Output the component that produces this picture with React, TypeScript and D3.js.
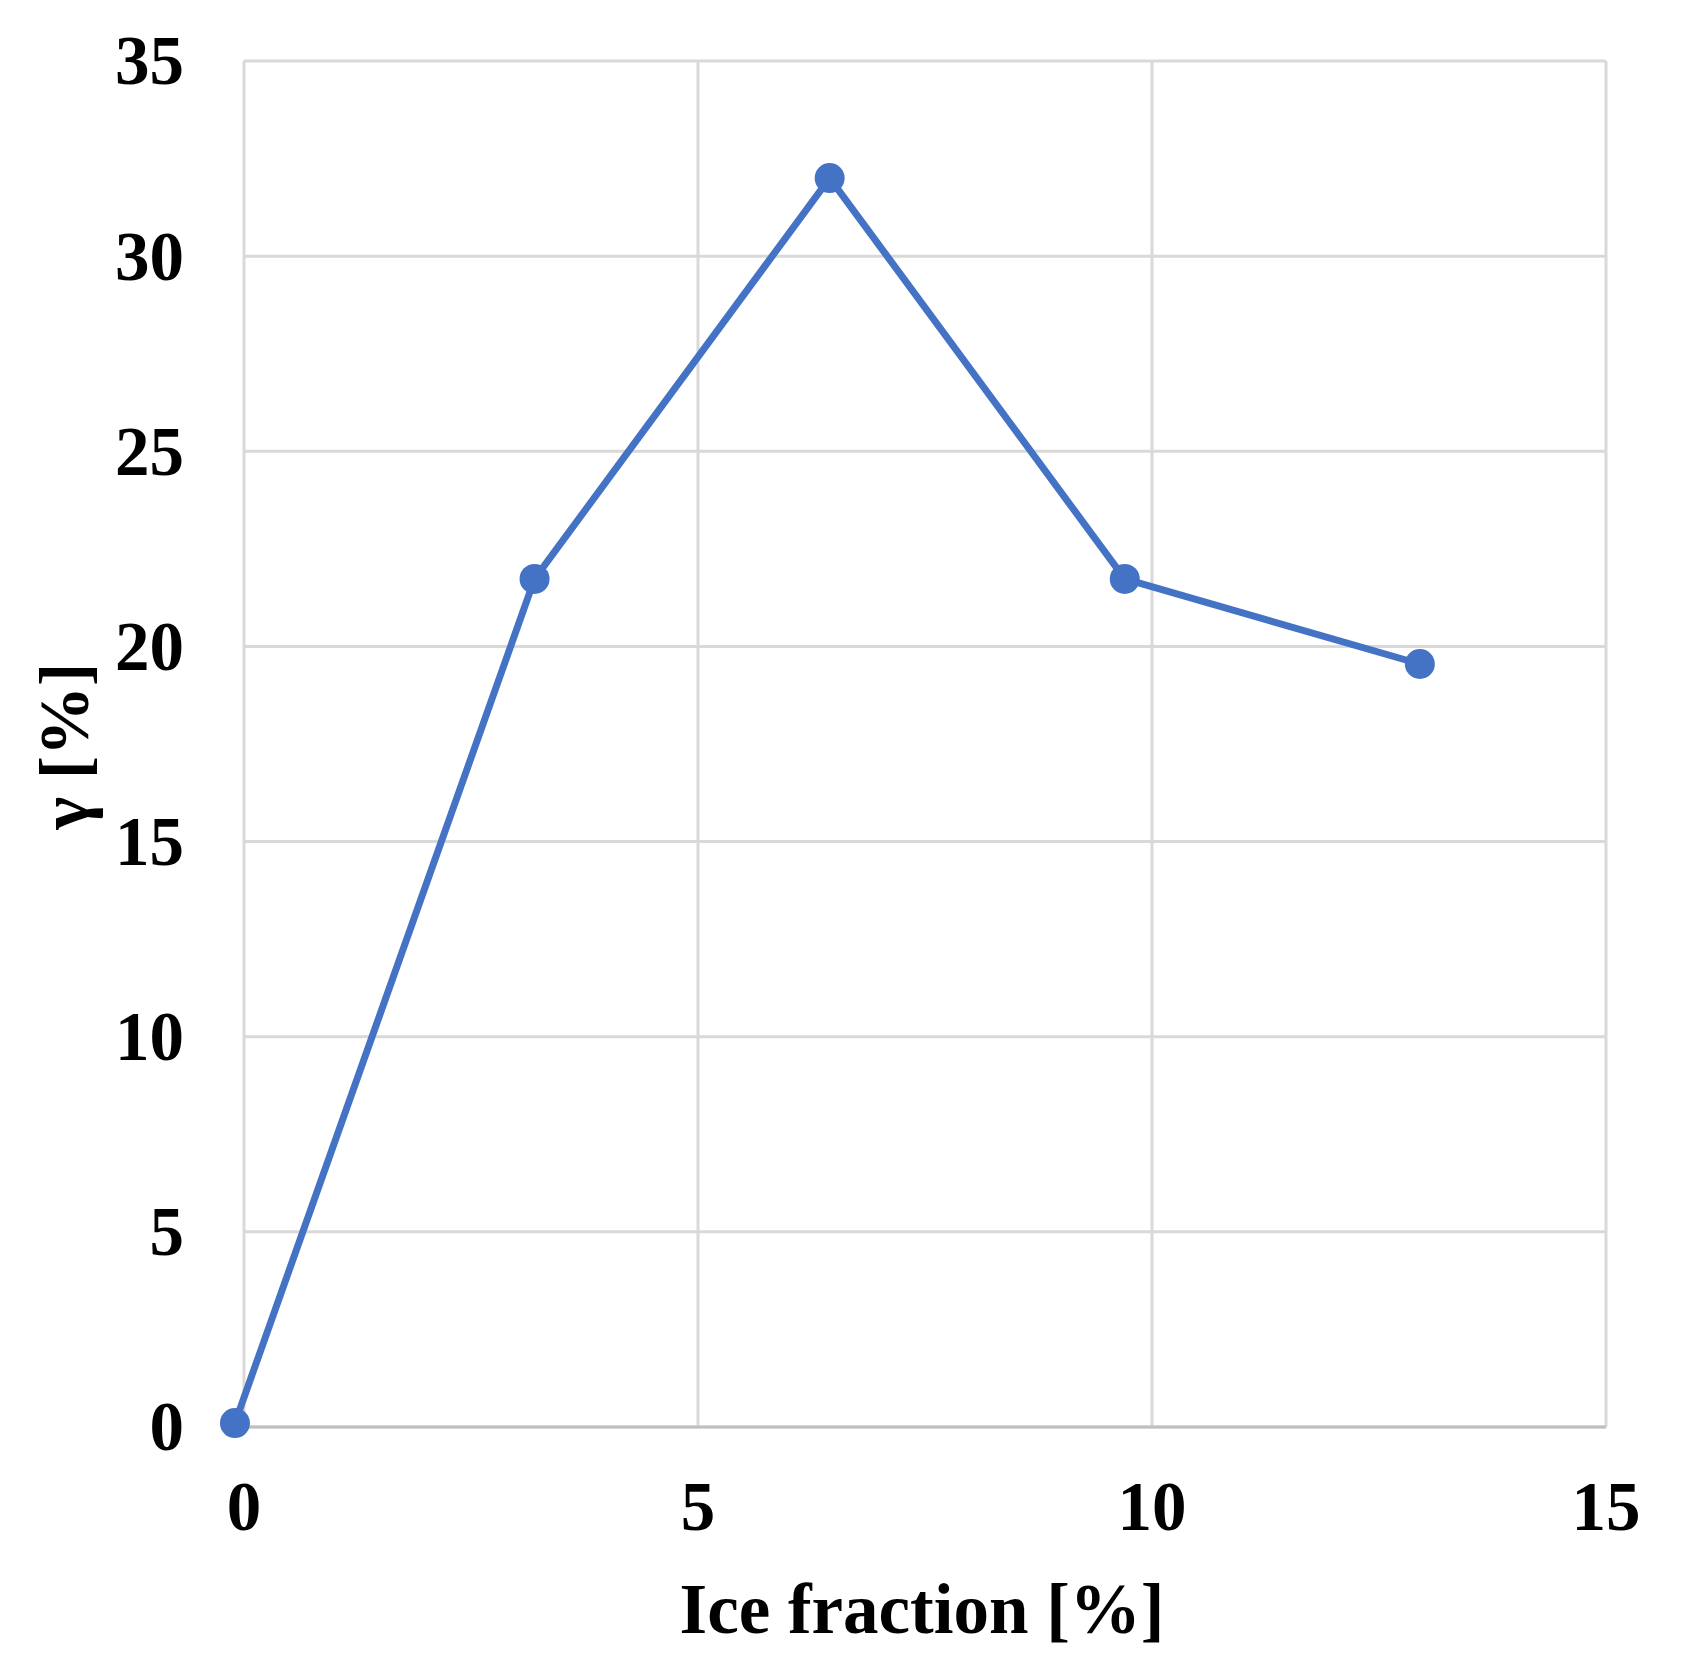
import React from "react";
import * as d3 from "d3";

const iceFraction = [-0.1, 3.2, 6.45, 9.7, 12.95];
const gammaValues = [0.1, 21.73, 32.0, 21.73, 19.55];
const xTicks = [0, 5, 10, 15];
const yTicks = [0, 5, 10, 15, 20, 25, 30, 35];
const xLabel = "Ice fraction [%]";
const yLabel = "γ [%]";

const W = 1681;
const H = 1672;
const M = { left: 244, right: 1606, top: 61, bottom: 1427 };
const FONT = "'Liberation Serif', 'Times New Roman', serif";
const BLUE = "#4472C4";

export default function App() {
  const x = d3.scaleLinear().domain([0, 15]).range([M.left, M.right]);
  const y = d3.scaleLinear().domain([0, 35]).range([M.bottom, M.top]);
  const pts = iceFraction.map((v, i) => [x(v), y(gammaValues[i])] as [number, number]);
  const line = d3.line()(pts) || "";

  return (
    <svg
      width={W}
      height={H}
      style={{ position: "absolute", left: 0, top: 0, background: "#fff" }}
    >
      <rect x={0} y={0} width={W} height={H} fill="#fff" />
      {yTicks.map((t) => (
        <line key={"gy" + t} x1={M.left} x2={M.right} y1={y(t)} y2={y(t)} stroke="#d9d9d9" strokeWidth={3} />
      ))}
      {xTicks.map((t) => (
        <line key={"gx" + t} x1={x(t)} x2={x(t)} y1={M.top} y2={M.bottom} stroke="#d9d9d9" strokeWidth={3} />
      ))}
      <line x1={M.left} x2={M.right} y1={y(0)} y2={y(0)} stroke="#bfbfbf" strokeWidth={3} />
      <path d={line} fill="none" stroke={BLUE} strokeWidth={7} strokeLinejoin="round" />
      {pts.map((p, i) => (
        <circle key={"m" + i} cx={p[0]} cy={p[1]} r={15} fill={BLUE} />
      ))}
      {yTicks.map((t) => (
        <text key={"ty" + t} x={184} y={y(t)} dy="0.34em" textAnchor="end" fontFamily={FONT} fontWeight="bold" fontSize={69} fill="#000">
          {t}
        </text>
      ))}
      {xTicks.map((t) => (
        <text key={"tx" + t} x={x(t)} y={1530} textAnchor="middle" fontFamily={FONT} fontWeight="bold" fontSize={69} fill="#000">
          {t}
        </text>
      ))}
      <text x={922} y={1633} textAnchor="middle" fontFamily={FONT} fontWeight="bold" fontSize={71} fill="#000">
        {xLabel}
      </text>
      <text
        transform={`translate(88, 746) rotate(-90)`}
        textAnchor="middle"
        fontFamily={FONT}
        fontWeight="bold"
        fontSize={70}
        fill="#000"
      >
        {yLabel}
      </text>
    </svg>
  );
}
